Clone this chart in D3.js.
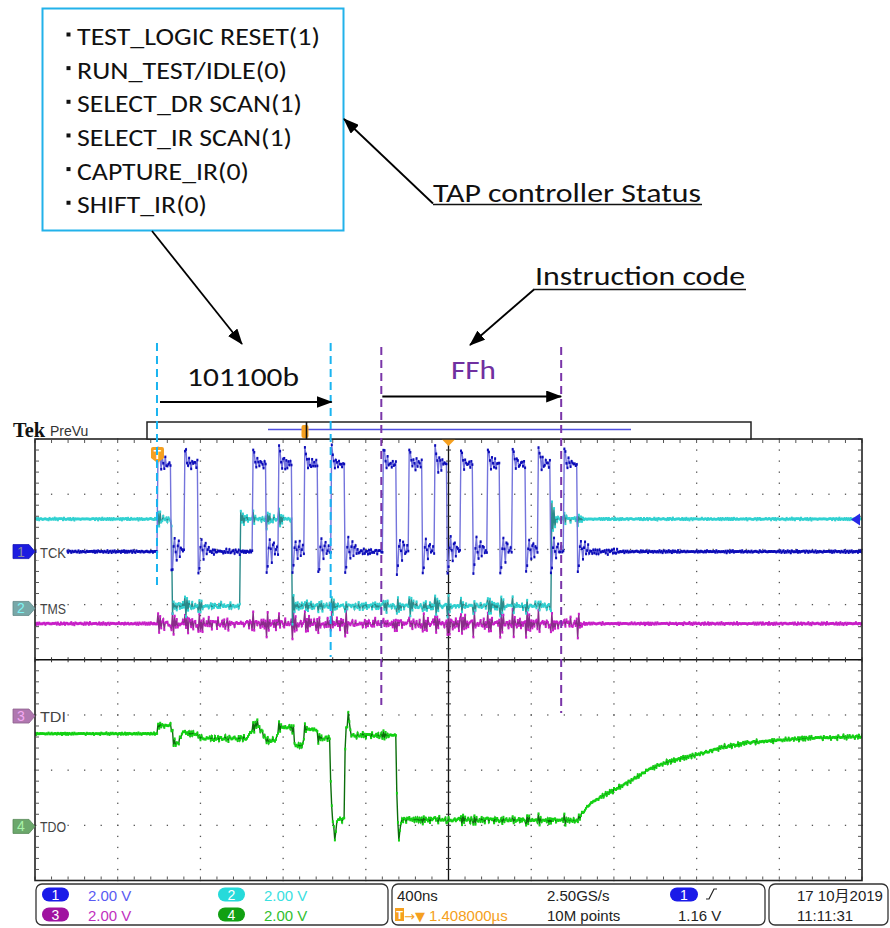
<!DOCTYPE html>
<html lang="en">
<head>
<meta charset="UTF-8">
<title>JTAG TAP capture</title>
<script src="https://cdn.jsdelivr.net/npm/d3@7"></script>
<style>
  * { margin: 0; padding: 0; }
  body { background: #fff; }
  svg { display: block; }
</style>
</head>
<body>
<script>
// ---- values (time: ns from left edge of screen, level: volts) ----
const tapStates = ["TEST_LOGIC RESET(1)", "RUN_TEST/IDLE(0)", "SELECT_DR SCAN(1)",
                   "SELECT_IR SCAN(1)", "CAPTURE_IR(0)", "SHIFT_IR(0)"];

const tckRise = [595, 725, 1055, 1180, 1305, 1435, 1685, 1810, 1935, 2060, 2190, 2310, 2435, 2560];
const tckFall = [660, 790, 1120, 1245, 1370, 1500, 1750, 1875, 1995, 2120, 2250, 2375, 2495, 2625];
const tckLevels = [0, 3.17];
const riseRing = [0.55, 0.45, 0.1, -0.15, 0.2, 0.05, -0.1, 0.1];          // overshoot after a rising edge
const fallRing = [-0.75, -0.55, 0.15, 0.45, 0.05, -0.3, 0.25, 0.3, -0.1, 0.1, 0.15];
const xtalk = [0.35, -0.3, 0.22, -0.15, 0.1];                             // coupling onto other probes

const tmsTimes = [0, 663, 993, 1245, 2499];
const tmsLevels = [3.24, 0.09, 3.24, 0.09, 3.24];
const tmsRing = [0.45, -0.2, 0.15, -0.1];

const tdiLevel = 3.35;

const tdoT = [0, 590, 596, 660, 668, 690, 711, 788, 800, 1025, 1050, 1074, 1100, 1122, 1165, 1180,
              1248, 1258, 1295, 1306, 1360, 1372, 1425, 1432, 1440, 1451, 1462, 1495, 1500, 1514,
              1530, 1746, 1752, 1761, 1772, 2620, 2685, 2765, 2862, 2959, 3055, 3201, 3329, 3442,
              3571, 3733, 3894, 4000];
const tdoV = [3.36, 3.36, 3.66, 3.66, 3.1, 2.95, 3.4, 3.35, 3.19, 3.19, 3.5, 3.75, 3.4, 3.1, 3.12, 3.6,
              3.6, 2.9, 2.95, 3.55, 3.5, 3.2, 3.2, 0.9, 0.3, -0.5, 0.25, 0.25, 3.0, 4.1,
              3.3, 3.3, 0.35, -0.5, 0.25, 0.22, 0.83, 1.19, 1.56, 2.03, 2.33, 2.6, 2.87, 3.03,
              3.11, 3.2, 3.23, 3.26];

// trace fuzz read as typical deviation shapes (no random source)
const fuzzA = [0.3, -0.6, 0.9, -0.2, -0.8, 0.5, 0.1, -0.4, 0.8, -0.7, 0.0, 0.6, -0.9, 0.2, -0.3, 0.7,
               -0.5, 0.2, -1.0, 0.6, 0.3, -0.6, 0.4, -0.1, 0.9, -0.4, 0.2, -0.8, 0.5, -0.2, 0.7];
const fuzzB = [-0.4, 0.7, -0.9, 0.3, 0.1, -0.6, 0.8, -0.2, 0.5, -0.7, 0.0, 0.9, -0.5, 0.2, -0.8, 0.6,
               -0.1, 0.4, -0.9, 0.7, -0.3, 0.1, -0.6];

const chNames = ["TCK", "TMS", "TDI", "TDO"];
const chScale = ["2.00 V", "2.00 V", "2.00 V", "2.00 V"];
const timebase = ["400ns", "1.408000µs"];
const acquire = ["2.50GS/s", "10M points"];
const trigInfo = ["1", "1.16 V"];
const stamp = ["17 10月2019", "11:11:31"];

const annotCyan = [590, 1430];
const annotPurple = [1675, 2545];

// ---- layout ----
const W = 890, H = 928;
const L = 35, R = 862, T = 439, B = 880.5;
const chOffset = [1.96, 0.93, -1.02, -3.02];     // ground marker position, divisions
const tapWidths = [243, 210, 225, 215, 172, 130];
const dt = 5;
const active = [588, 2640];

const x = d3.scaleLinear().domain([0, 4000]).range([L, R]);
const yDiv = d3.scaleLinear().domain([-4, 4]).range([B, T]);
const tdoScale = d3.scaleLinear().domain(tdoT).range(tdoV);

const svg = d3.select("body").append("svg").attr("width", W).attr("height", H)
  .style("font-family", "'Liberation Sans', Arial, 'Noto Sans CJK SC', sans-serif");

function fz(i, seed) {
  return fuzzA[(i + seed) % fuzzA.length] * 0.6 + fuzzB[(i + 2 * seed) % fuzzB.length] * 0.4;
}
function ring(arr, t, t0) {
  const k = Math.floor((t - t0) / dt);
  return k >= 0 && k < arr.length ? arr[k] : 0;
}
function coupling(t) {
  let s = 0;
  tckRise.forEach(e => { s += ring(xtalk, t, e); });
  tckFall.forEach(e => { s -= ring(xtalk, t, e); });
  return s;
}
const inActive = t => t >= active[0] && t <= active[1];

function tckAt(t, i) {
  const r = d3.bisectRight(tckRise, t) - 1, f = d3.bisectRight(tckFall, t) - 1;
  const tr = r >= 0 ? tckRise[r] : -1e9, tf = f >= 0 ? tckFall[f] : -1e9;
  if (tr > tf) return tckLevels[1] + ring(riseRing, t, tr) + fz(i, 0) * 0.18;
  const quiet = t - tf > 200;
  return tckLevels[0] + ring(fallRing, t, tf) + fz(i, 0) * (quiet ? 0.05 : 0.13);
}
function tmsAt(t, i) {
  const j = d3.bisectRight(tmsTimes, t) - 1;
  let v = tmsLevels[j];
  if (j > 0) v += (tmsLevels[j] > tmsLevels[j - 1] ? 1 : -1) * ring(tmsRing, t, tmsTimes[j]);
  return v + coupling(t) * 0.8 + fz(i, 5) * (inActive(t) ? 0.17 : 0.045);
}
function tdiAt(t, i) {
  return tdiLevel + coupling(t) * 0.9 + fz(i, 11) * (inActive(t) ? 0.27 : 0.05);
}
function tdoAt(t, i) {
  return tdoScale(t) + (inActive(t) ? coupling(t) * 0.4 : 0) + fz(i, 17) * (inActive(t) ? 0.13 : (t < active[0] ? 0.04 : 0.09));
}

const traces = [
  { fn: tckAt, line: "#7474dc", dot: "#0c0cb8" },
  { fn: tmsAt, line: "#2a8a8a", dot: "#30d2d2" },
  { fn: tdiAt, line: "#8a2a8a", dot: "#c81ec8" },
  { fn: tdoAt, line: "#0b6e0b", dot: "#12d212" }
];
const times = d3.range(0, 4000 + dt / 2, dt);

// ---- graticule ----
const grid = svg.append("g");
const majorT = d3.range(0, 4001, 400);
const majorD = d3.range(-4, 4.01, 1);
const minorT = d3.range(0, 4001, 80);
const minorD = d3.range(-4, 4.01, 0.2);
majorD.forEach(d => {
  if (d === 0 || Math.abs(d) === 4) return;
  grid.append("g").selectAll("rect").data(minorT).join("rect")
    .attr("x", t => x(t) - 0.6).attr("y", yDiv(d) - 0.6).attr("width", 1.3).attr("height", 1.3).attr("fill", "#555");
});
majorT.forEach(t => {
  if (t === 2000 || t === 0 || t === 4000) return;
  grid.append("g").selectAll("rect").data(minorD).join("rect")
    .attr("x", x(t) - 0.6).attr("y", d => yDiv(d) - 0.6).attr("width", 1.3).attr("height", 1.3).attr("fill", "#555");
});
// border ticks
grid.append("g").selectAll("line").data(minorT).join("line")
  .attr("x1", t => x(t)).attr("x2", t => x(t)).attr("y1", T + 1).attr("y2", T + 4).attr("stroke", "#555");
grid.append("g").selectAll("line").data(minorT).join("line")
  .attr("x1", t => x(t)).attr("x2", t => x(t)).attr("y1", B - 4).attr("y2", B - 1).attr("stroke", "#555");
grid.append("g").selectAll("line").data(minorD).join("line")
  .attr("x1", L + 1).attr("x2", L + 4).attr("y1", d => yDiv(d)).attr("y2", d => yDiv(d)).attr("stroke", "#555");
grid.append("g").selectAll("line").data(minorD).join("line")
  .attr("x1", R - 4).attr("x2", R - 1).attr("y1", d => yDiv(d)).attr("y2", d => yDiv(d)).attr("stroke", "#555");
// centre cross with ticks
grid.append("line").attr("x1", L).attr("x2", R).attr("y1", yDiv(0)).attr("y2", yDiv(0)).attr("stroke", "#111").attr("stroke-width", 1.3);
grid.append("line").attr("x1", x(2000)).attr("x2", x(2000)).attr("y1", T).attr("y2", B).attr("stroke", "#111").attr("stroke-width", 1.3);
grid.append("g").selectAll("line").data(minorT).join("line")
  .attr("x1", t => x(t)).attr("x2", t => x(t)).attr("y1", yDiv(0) - 2.5).attr("y2", yDiv(0) + 2.5).attr("stroke", "#333");
grid.append("g").selectAll("line").data(minorD).join("line")
  .attr("x1", x(2000) - 2.5).attr("x2", x(2000) + 2.5).attr("y1", d => yDiv(d)).attr("y2", d => yDiv(d)).attr("stroke", "#333");

// ---- traces ----
svg.append("clipPath").attr("id", "scr").append("rect").attr("x", L).attr("y", T).attr("width", R - L).attr("height", B - T);
const plot = svg.append("g").attr("clip-path", "url(#scr)");
const drawOrder = [3, 2, 1, 0];
drawOrder.forEach(c => {
  const tr = traces[c];
  const pts = times.map((t, i) => ({ t, y: yDiv(chOffset[c] + tr.fn(t, i) / 2) }));
  const g = plot.append("g");
  g.append("path").datum(pts)
    .attr("d", d3.line().x(d => x(d.t)).y(d => d.y))
    .attr("fill", "none").attr("stroke", tr.line).attr("stroke-width", 1.4);
  g.selectAll("rect").data(pts).join("rect")
    .attr("x", d => x(d.t) - 0.9).attr("y", d => d.y - 1.3).attr("width", 2).attr("height", 2.6)
    .attr("fill", tr.dot);
});

// screen frame
svg.append("rect").attr("x", L).attr("y", T).attr("width", R - L).attr("height", B - T)
  .attr("fill", "none").attr("stroke", "#222").attr("stroke-width", 1.6);

// trigger level arrow (ch1 at 1.16 V)
const yTrig = yDiv(chOffset[0] + parseFloat(trigInfo[1]) / 2);
svg.append("path").attr("d", `M${R - 11},${yTrig} L${R - 2},${yTrig - 6} L${R - 2},${yTrig + 6} Z`).attr("fill", "#2828e6");
// expansion point triangle
svg.append("path").attr("d", `M${x(2000) - 7},${T} L${x(2000) + 7},${T} L${x(2000)},${T + 7} Z`).attr("fill", "#f5a020");
// trigger position marker
const xt = x(annotCyan[0]);
svg.append("path").attr("d", `M${xt - 6},${T + 10} Q${xt - 6},${T + 8} ${xt - 4},${T + 8} L${xt + 5},${T + 8} Q${xt + 7},${T + 8} ${xt + 7},${T + 10} L${xt + 7},${T + 19} L${xt + 0.5},${T + 24} L${xt - 6},${T + 19} Z`)
  .attr("fill", "#f5a020");
svg.append("text").attr("x", xt + 0.5).attr("y", T + 20).attr("text-anchor", "middle").attr("font-size", 12)
  .attr("font-weight", "bold").attr("fill", "#fff").text("T");

// channel ground markers + names
const markFill = ["#1c1ce0", "#78a8a8", "#b078b0", "#6ca86c"];
const markText = ["#8a8a9a", "#7ff4f4", "#f4a8f4", "#a8f4a8"];
chOffset.forEach((o, c) => {
  const yy = yDiv(o);
  svg.append("rect").attr("x", 36.5).attr("y", yy - 9).attr("width", 30).attr("height", 18).attr("fill", "#fff");
  svg.append("path").attr("d", `M13,${yy - 7} H29 L35,${yy} L29,${yy + 7} H13 Z`)
    .attr("fill", markFill[c]).attr("stroke", d3.color(markFill[c]).darker(0.6)).attr("stroke-width", 0.8);
  svg.append("text").attr("x", 21).attr("y", yy + 5).attr("text-anchor", "middle").attr("font-size", 14)
    .attr("fill", markText[c]).text(c + 1);
  svg.append("text").attr("x", 40).attr("y", yy + 6).attr("font-size", 15).attr("fill", "#444")
    .attr("textLength", 26).attr("lengthAdjust", "spacingAndGlyphs").text(chNames[c]);
});

// ---- header: Tek PreVu + record bar ----
svg.append("text").attr("x", 13).attr("y", 437).attr("font-family", "'Liberation Serif', 'DejaVu Serif', serif")
  .attr("font-weight", "bold").attr("font-size", 21).attr("fill", "#111")
  .attr("textLength", 32).attr("lengthAdjust", "spacingAndGlyphs").text("Tek");
svg.append("text").attr("x", 50).attr("y", 436).attr("font-size", 14).attr("fill", "#333").text("PreVu");
svg.append("rect").attr("x", 147).attr("y", 422).attr("width", 604).attr("height", 17)
  .attr("fill", "#fff").attr("stroke", "#222").attr("stroke-width", 1.5);
svg.append("line").attr("x1", 268).attr("x2", 631).attr("y1", 429.5).attr("y2", 429.5).attr("stroke", "#5050e0").attr("stroke-width", 1.5);
svg.append("rect").attr("x", 301.5).attr("y", 425).attr("width", 7).attr("height", 13).attr("rx", 2).attr("fill", "#f5a020");
svg.append("line").attr("x1", 306.5).attr("x2", 306.5).attr("y1", 422).attr("y2", 439).attr("stroke", "#111").attr("stroke-width", 1.6);

// ---- status bar ----
const st = svg.append("g").attr("font-size", 15);
st.append("rect").attr("x", 36).attr("y", 884).attr("width", 352).attr("height", 41).attr("rx", 6)
  .attr("fill", "#fff").attr("stroke", "#333").attr("stroke-width", 1.3);
st.append("rect").attr("x", 392).attr("y", 884).attr("width", 373).attr("height", 41).attr("rx", 6)
  .attr("fill", "#fff").attr("stroke", "#333").attr("stroke-width", 1.3);
st.append("rect").attr("x", 769).attr("y", 884).attr("width", 119).attr("height", 41).attr("rx", 6)
  .attr("fill", "#fff").attr("stroke", "#333").attr("stroke-width", 1.3);
const badgeFill = ["#1a1ae8", "#26dada", "#a012a0", "#12a012"];
const scaleCol = ["#5a5af2", "#3ae0e0", "#c030c0", "#30c030"];
const badgePos = [[42, 887.5], [218, 887.5], [42, 907.5], [218, 907.5]];
chScale.forEach((s, c) => {
  const [bx, by] = badgePos[c];
  st.append("rect").attr("x", bx).attr("y", by).attr("width", 27).attr("height", 14).attr("rx", 7).attr("fill", badgeFill[c]);
  st.append("text").attr("x", bx + 13.5).attr("y", by + 12).attr("text-anchor", "middle").attr("font-size", 14)
    .attr("fill", "#fff").text(c + 1);
  st.append("text").attr("x", bx + 46).attr("y", by + 13.5).attr("fill", scaleCol[c]).text(s);
});
st.append("text").attr("x", 397).attr("y", 901).attr("fill", "#222").text(timebase[0]);
st.append("rect").attr("x", 395).attr("y", 908).attr("width", 9).attr("height", 13).attr("fill", "#f5a020");
st.append("text").attr("x", 399.5).attr("y", 919).attr("text-anchor", "middle").attr("font-size", 11).attr("font-weight", "bold")
  .attr("fill", "#fff").text("T");
st.append("text").attr("x", 404).attr("y", 921).attr("fill", "#f5a020").attr("font-family", "'DejaVu Sans', sans-serif")
  .attr("font-size", 13).text("→▼");
st.append("text").attr("x", 429).attr("y", 921).attr("fill", "#f5a020").text(timebase[1]);
st.append("text").attr("x", 547).attr("y", 901).attr("fill", "#222").text(acquire[0]);
st.append("text").attr("x", 547).attr("y", 921).attr("fill", "#222").text(acquire[1]);
st.append("rect").attr("x", 670).attr("y", 887.5).attr("width", 28).attr("height", 14).attr("rx", 7).attr("fill", badgeFill[0]);
st.append("text").attr("x", 684).attr("y", 899.5).attr("text-anchor", "middle").attr("font-size", 14).attr("fill", "#fff").text(trigInfo[0]);
st.append("path").attr("d", "M706,899 H709 L714,889 H717").attr("fill", "none").attr("stroke", "#222").attr("stroke-width", 1.2);
st.append("text").attr("x", 678).attr("y", 921).attr("fill", "#222").text(trigInfo[1]);
st.append("text").attr("x", 797).attr("y", 901).attr("fill", "#222")
  .attr("font-family", "'Liberation Sans', 'Noto Sans CJK SC', sans-serif").text(stamp[0]);
st.append("text").attr("x", 797).attr("y", 921).attr("fill", "#222").text(stamp[1]);

// ---- annotations ----
const defs = svg.append("defs");
defs.append("marker").attr("id", "ah").attr("viewBox", "0 0 16 12").attr("refX", 15).attr("refY", 6)
  .attr("markerWidth", 16).attr("markerHeight", 12).attr("markerUnits", "userSpaceOnUse").attr("orient", "auto")
  .append("path").attr("d", "M0,0 L16,6 L0,12 Z").attr("fill", "#000");

const ann = svg.append("g").style("font-family", "Carlito, Calibri, 'Liberation Sans', sans-serif");
ann.append("rect").attr("x", 42.5).attr("y", 8.5).attr("width", 301).attr("height", 222)
  .attr("fill", "#fff").attr("stroke", "#22b2ea").attr("stroke-width", 2);
tapStates.forEach((s, i) => {
  const by = 45 + i * 33.65;
  ann.append("rect").attr("x", 66.5).attr("y", by - 12.5).attr("width", 4).attr("height", 4).attr("fill", "#111");
  ann.append("text").attr("x", 77).attr("y", by).attr("font-size", 25).attr("fill", "#111")
    .attr("textLength", tapWidths[i]).attr("lengthAdjust", "spacingAndGlyphs").text(s);
});

function arrow(x1, y1, x2, y2) {
  ann.append("line").attr("x1", x1).attr("y1", y1).attr("x2", x2).attr("y2", y2)
    .attr("stroke", "#000").attr("stroke-width", 1.8).attr("marker-end", "url(#ah)");
}
arrow(152, 231, 242, 344);
arrow(433, 203.5, 344, 119);
arrow(534, 289.5, 470, 345);

ann.append("text").attr("x", 433).attr("y", 201.5).attr("font-size", 27).attr("fill", "#111")
  .attr("textLength", 268).attr("lengthAdjust", "spacingAndGlyphs").text("TAP controller Status");
ann.append("line").attr("x1", 433).attr("x2", 702).attr("y1", 204.5).attr("y2", 204.5).attr("stroke", "#111").attr("stroke-width", 1.5);
ann.append("text").attr("x", 535).attr("y", 284.5).attr("font-size", 26).attr("fill", "#111")
  .attr("textLength", 210).attr("lengthAdjust", "spacingAndGlyphs").text("Instruction code");
ann.append("line").attr("x1", 533).attr("x2", 746).attr("y1", 289.5).attr("y2", 289.5).attr("stroke", "#111").attr("stroke-width", 1.5);

// span markers
const cyanBottom = [590, 657], purpleBottom = [705, 713];
annotCyan.forEach((t, i) => {
  ann.append("line").attr("x1", x(t)).attr("x2", x(t)).attr("y1", 343).attr("y2", cyanBottom[i])
    .attr("stroke", "#1ab4f0").attr("stroke-width", 2).attr("stroke-dasharray", "8,5");
});
annotPurple.forEach((t, i) => {
  ann.append("line").attr("x1", x(t)).attr("x2", x(t)).attr("y1", 347).attr("y2", purpleBottom[i])
    .attr("stroke", "#7a35a8").attr("stroke-width", 2).attr("stroke-dasharray", "8,5");
});
arrow(x(annotCyan[0]) + 3, 402, x(annotCyan[1]) + 1, 402);
arrow(x(annotPurple[0]) + 1, 396.5, x(annotPurple[1]), 396.5);
ann.append("text").attr("x", 187).attr("y", 386).attr("font-size", 27).attr("fill", "#111")
  .attr("textLength", 112).attr("lengthAdjust", "spacingAndGlyphs").text("101100b");
ann.append("text").attr("x", 451).attr("y", 379).attr("font-size", 26).attr("fill", "#7030a0")
  .attr("textLength", 45).attr("lengthAdjust", "spacingAndGlyphs").text("FFh");
</script>
</body>
</html>
